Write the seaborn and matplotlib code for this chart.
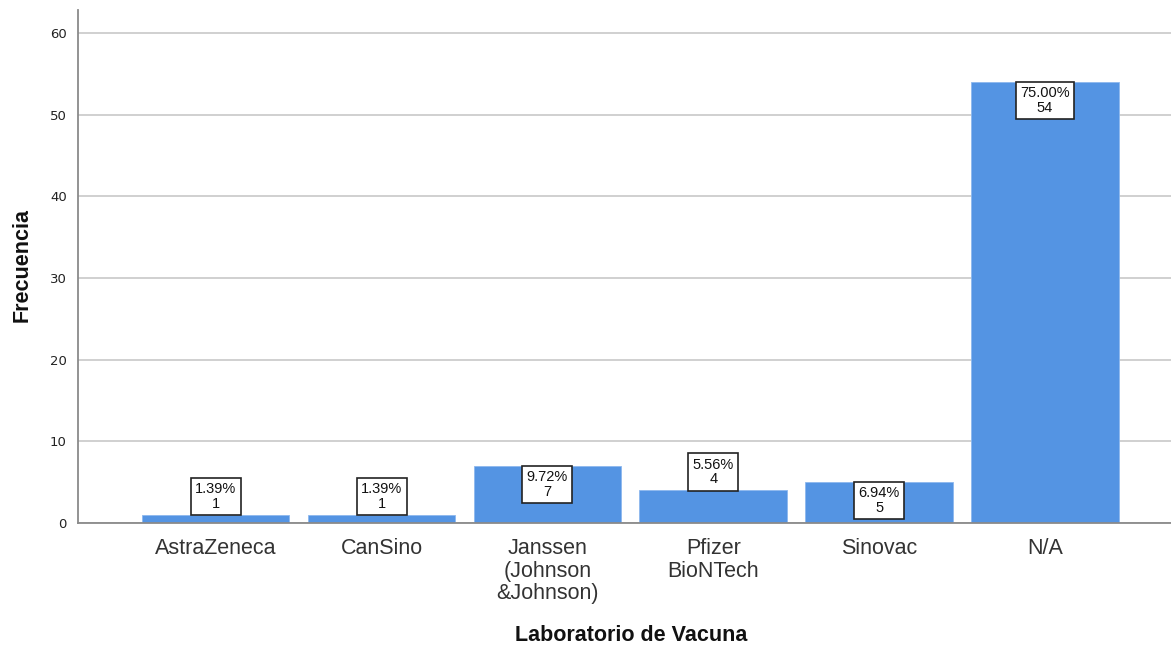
import matplotlib
matplotlib.use("Agg")
import matplotlib.pyplot as plt
import seaborn as sns
import pandas as pd

# Vaccine laboratory counts and their share of respondents
categories = ["AstraZeneca", "CanSino", "Janssen\n(Johnson\n&Johnson)",
              "Pfizer\nBioNTech", "Sinovac", "N/A"]
counts = [1, 1, 7, 4, 5, 54]
percents = ["1.39%", "1.39%", "9.72%", "5.56%", "6.94%", "75.00%"]
# where each value label sits relative to the bar top
label_inside = [False, False, True, False, True, True]

df = pd.DataFrame({"lab": categories, "n": counts})

sns.set_theme(style="white")
plt.rcParams["font.family"] = ["Liberation Sans", "DejaVu Sans"]

fig = plt.figure(figsize=(11.71, 6.47), dpi=100)
ax = fig.add_axes([0.0666, 0.1917, 0.9334, 0.7928])

sns.barplot(data=df, x="lab", y="n", color="#5494e3", saturation=1,
            width=0.89, ax=ax, zorder=3, edgecolor="#8db8ee", linewidth=0.6)

ax.set_xlim(-0.83, 5.76)
ax.set_ylim(0, 62.8)
ax.set_yticks(range(0, 61, 10))
ax.yaxis.grid(True, color="#c8c8c8", linewidth=1.2, zorder=0)
ax.xaxis.grid(False)

for side in ("top", "right"):
    ax.spines[side].set_visible(False)
for side in ("left", "bottom"):
    ax.spines[side].set_color("#8a8a8a")
    ax.spines[side].set_linewidth(1.3)
    ax.spines[side].set_zorder(4)

ax.tick_params(axis="y", labelsize=10, length=4, color="#8a8a8a", pad=4,
               labelcolor="#222222")
ax.tick_params(axis="x", labelsize=15.5, length=0, pad=11, labelcolor="#333333")
for t in ax.get_yticklabels():
    t.set_family(["DejaVu Sans"])
    t.set_fontsize(9.5)
for t in ax.get_xticklabels():
    t.set_linespacing(1.1)

ax.set_xlabel("Laboratorio de Vacuna", fontsize=15.5, fontweight="bold",
              color="#111111", va="center")
ax.xaxis.set_label_coords(0.506, -0.219)
ax.set_ylabel("Frecuencia", fontsize=15.5, fontweight="bold",
              color="#111111", va="center")
ax.yaxis.set_label_coords(-0.051, 0.503)

box = dict(boxstyle="square,pad=0.3", facecolor="white",
           edgecolor="#222222", linewidth=1.2)
for i, (v, p, inside) in enumerate(zip(counts, percents, label_inside)):
    ax.annotate(f"{p}\n{v}", xy=(i, v),
                xytext=(0, -3.0 if inside else 3.0), textcoords="offset points",
                ha="center", va="top" if inside else "bottom",
                fontsize=10.5, linespacing=1.05, color="#111111",
                bbox=box, zorder=5)

fig.savefig("out.png", dpi=100)
